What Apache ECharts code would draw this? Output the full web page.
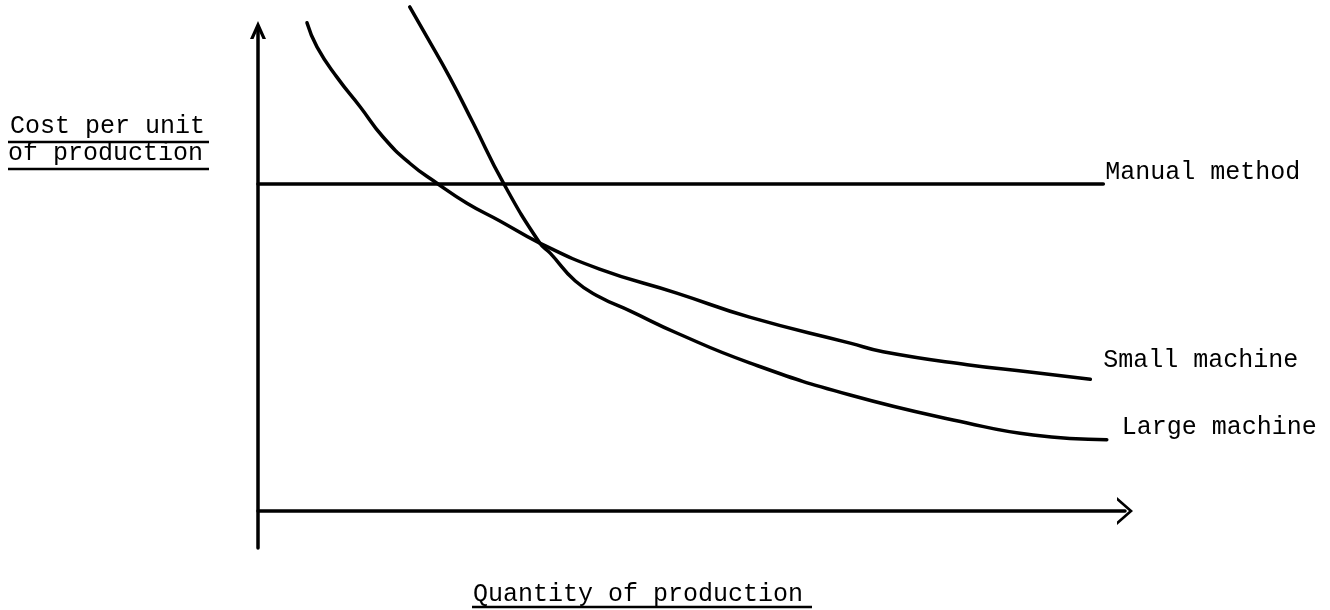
<!DOCTYPE html>
<html>
<head>
<meta charset="utf-8">
<script src="https://cdn.jsdelivr.net/npm/echarts@6/dist/echarts.min.js"></script>
<style>
html,body{margin:0;padding:0;background:#fff;}
#chart{width:1330px;height:610px;}
</style>
</head>
<body>
<div id="chart"></div>
<script>
// Data (arbitrary units: x = quantity, y = cost per unit)
const manualX = [0, 97.5];
const manualY = [68, 68];

const smallX = [5.65, 6.8, 9.1, 11.8, 14.4, 17.5, 20.6, 24.1, 27.9, 32.5, 39.4, 48.3, 56.7, 68.3, 72.1, 81.8, 89.0, 96.0];
const smallY = [101.5, 96.5, 90.2, 84.0, 77.8, 72.3, 68.2, 64.0, 60.3, 55.7, 50.3, 45.3, 40.3, 34.9, 33.1, 30.4, 28.9, 27.4];

const largeX = [17.5, 19.5, 22.1, 24.8, 28.3, 32.5, 33.7, 36.6, 39.4, 42.9, 48.3, 56.7, 68.3, 81.8, 89.4, 97.9];
const largeY = [104.8, 98.5, 90.2, 80.7, 68.2, 55.7, 53.6, 47.8, 44.5, 41.6, 37.0, 30.8, 24.1, 18.3, 15.8, 14.8];

const seriesNames = ['Manual method', 'Small machine', 'Large machine'];
const xTitle = 'Quantity of production';
const yTitleLines = ['Cost per unit', 'of production'];

const FONT = "'Liberation Mono', 'DejaVu Sans Mono', monospace";
const INK = '#000';

function pairs(xs, ys) { return xs.map((x, i) => [x, ys[i]]); }

const chart = echarts.init(document.getElementById('chart'), null, {renderer: 'canvas'});

function lineSeries(name, data, smooth, labelOffset) {
  return {
    name: name,
    type: 'line',
    data: data,
    smooth: smooth,
    symbol: 'none',
    clip: false,
    lineStyle: {color: INK, width: 3.5, cap: 'round', join: 'round'},
    emphasis: {disabled: true},
    endLabel: {
      show: true,
      formatter: '{a}',
      distance: 0,
      offset: labelOffset,
      fontFamily: FONT,
      fontSize: 25,
      color: INK
    }
  };
}

const option = {
  backgroundColor: '#fff',
  animation: false,
  grid: {left: 258, right: 205, top: 30, bottom: 62, containLabel: false},
  xAxis: {
    type: 'value', min: 0, max: 100,
    axisLine: {
      show: true, onZero: true,
      lineStyle: {color: INK, width: 3.5},
      symbol: ['none', 'path://M0,16L14,0L28,16L24.5,16L14,4L3.5,16Z'],
      symbolSize: [28, 16]
    },
    axisTick: {show: false}, axisLabel: {show: false}, splitLine: {show: false}
  },
  yAxis: {
    type: 'value', min: -7.7, max: 100,
    axisLine: {
      show: true, onZero: false,
      lineStyle: {color: INK, width: 3.5},
      symbol: ['none', 'path://M0,18L8,0L16,18L12.5,18L8,7.9L3.5,18Z'],
      symbolSize: [16, 18]
    },
    axisTick: {show: false}, axisLabel: {show: false}, splitLine: {show: false}
  },
  series: [
    lineSeries(seriesNames[0], pairs(manualX, manualY), false, [2, -12]),
    lineSeries(seriesNames[1], pairs(smallX, smallY), true, [13, -19]),
    lineSeries(seriesNames[2], pairs(largeX, largeY), true, [15, -12])
  ],
  graphic: [
    {type: 'text', left: 10, top: 114, style: {text: yTitleLines[0], font: '25px ' + FONT, fill: INK}},
    {type: 'text', left: 8, top: 141, style: {text: yTitleLines[1], font: '25px ' + FONT, fill: INK}},
    {type: 'line', shape: {x1: 8, y1: 142, x2: 209, y2: 142}, style: {stroke: INK, lineWidth: 2.5}},
    {type: 'line', shape: {x1: 8, y1: 169, x2: 209, y2: 169}, style: {stroke: INK, lineWidth: 2.5}},
    {type: 'text', left: 473, top: 582, style: {text: xTitle, font: '25px ' + FONT, fill: INK}},
    {type: 'line', shape: {x1: 472, y1: 607, x2: 812, y2: 607}, style: {stroke: INK, lineWidth: 2.5}}
  ]
};
chart.setOption(option);
</script>
</body>
</html>
